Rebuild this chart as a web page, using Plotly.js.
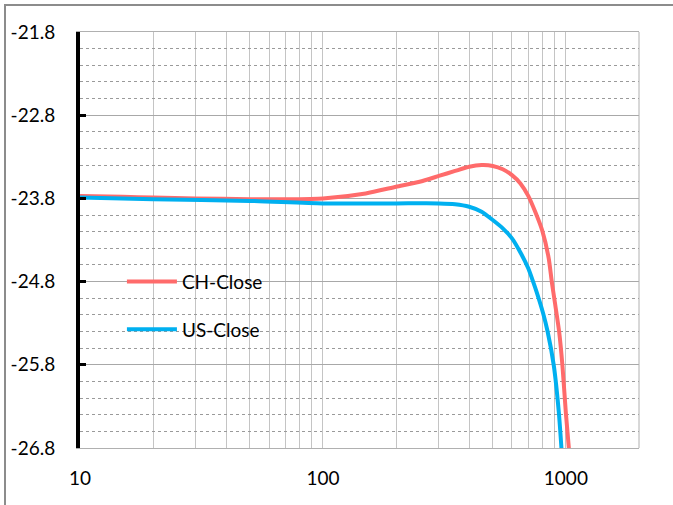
<!DOCTYPE html>
<html>
<head>
<meta charset="utf-8">
<script src="https://cdn.plot.ly/plotly-3.0.1.min.js"></script>
<style>
  html, body { margin: 0; padding: 0; background: #fff; }
  #wrap { position: relative; width: 673px; height: 505px; }
  #chart { width: 673px; height: 505px; }
  #frame { position: absolute; left: 4px; top: 4px; right: -10px; bottom: -10px;
           border-top: 2px solid #8c8c8c; border-left: 2px solid #8c8c8c; pointer-events: none; }
</style>
</head>
<body>
<div id="wrap">
  <div id="chart"></div>
  <div id="frame"></div>
</div>
<script>
// Series names
const seriesNames = ["CH-Close", "US-Close"];

// CH-Close
const chX = [10, 15, 20, 30, 50, 70, 100, 150, 200, 250, 300, 350, 400, 450, 500, 550, 600, 650, 700, 750, 800, 850, 875, 900, 938, 968, 1000, 1030];
const chY = [-23.77, -23.78, -23.79, -23.80, -23.81, -23.81, -23.80, -23.74, -23.66, -23.60, -23.53, -23.47, -23.42, -23.40, -23.41, -23.45, -23.52, -23.62, -23.77, -23.97, -24.19, -24.52, -24.80, -25.04, -25.40, -25.81, -26.38, -26.82];

// US-Close
const usX = [10, 20, 50, 100, 200, 300, 350, 400, 450, 500, 550, 600, 650, 700, 733, 757, 806, 841, 892, 936, 960];
const usY = [-23.79, -23.81, -23.83, -23.86, -23.86, -23.86, -23.87, -23.90, -23.96, -24.06, -24.16, -24.28, -24.45, -24.64, -24.80, -24.92, -25.18, -25.40, -25.81, -26.38, -26.82];

// Axis ticks
const xTickVals = [10, 100, 1000];
const xTickText = ["10", "100", "1000"];
const yTickVals = [-21.8, -22.8, -23.8, -24.8, -25.8, -26.8];
const yTickText = ["-21.8", "-22.8", "-23.8", "-24.8", "-25.8", "-26.8"];

const FONT = "Lato, 'Liberation Sans', sans-serif";

const traces = [
  { x: chX, y: chY, name: seriesNames[0], mode: "lines", type: "scatter",
    line: { color: "#FF6B6B", width: 4, shape: "spline", smoothing: 0.6 }, legend: "legend" },
  { x: usX, y: usY, name: seriesNames[1], mode: "lines", type: "scatter",
    line: { color: "#00B0F0", width: 4, shape: "spline", smoothing: 0.6 }, legend: "legend2" }
];

const layout = {
  width: 673, height: 505,
  margin: { l: 80, r: 34, t: 32, b: 57 },
  paper_bgcolor: "#ffffff", plot_bgcolor: "#ffffff",
  font: { family: FONT, size: 19, color: "#000" },
  showlegend: true,
  legend: { x: 0.075, y: 0.40, xanchor: "left", yanchor: "middle",
            bgcolor: "rgba(0,0,0,0)", borderwidth: 0, itemwidth: 50,
            font: { family: FONT, size: 19, color: "#000" } },
  legend2: { x: 0.075, y: 0.285, xanchor: "left", yanchor: "middle",
            bgcolor: "rgba(0,0,0,0)", borderwidth: 0, itemwidth: 50,
            font: { family: FONT, size: 19, color: "#000" } },
  xaxis: {
    type: "log", range: [1, Math.log10(2000)],
    tickvals: xTickVals, ticktext: xTickText, ticks: "",
    showgrid: true, gridcolor: "#c4c4c4", gridwidth: 1,
    minor: { dtick: "D1", showgrid: true, gridcolor: "#c4c4c4", gridwidth: 1, ticks: "" },
    showline: true, linecolor: "#b0b0b0", linewidth: 1, mirror: true,
    zeroline: false, ticklabelstandoff: 13,
    tickfont: { family: FONT, size: 19, color: "#000" }
  },
  yaxis: {
    range: [-26.8, -21.8], tick0: -21.8, dtick: 1,
    tickvals: yTickVals, ticktext: yTickText,
    ticks: "inside", ticklen: 6, tickwidth: 3, tickcolor: "#000",
    showgrid: true, gridcolor: "#a8a8a8", gridwidth: 1,
    minor: { tick0: -21.8, dtick: 0.2, showgrid: true, gridcolor: "#9a9a9a", griddash: "dot", gridwidth: 1, ticks: "" },
    showline: true, linecolor: "#000", linewidth: 4, mirror: false,
    zeroline: false, ticklabelstandoff: 17,
    tickfont: { family: FONT, size: 19, color: "#000" }
  },
  shapes: [
    { type: "line", xref: "paper", yref: "paper", x0: 1, x1: 1, y0: 0, y1: 1,
      line: { color: "#b0b0b0", width: 1 } }
  ]
};

Plotly.newPlot("chart", traces, layout, { displayModeBar: false, staticPlot: true });
</script>
</body>
</html>
